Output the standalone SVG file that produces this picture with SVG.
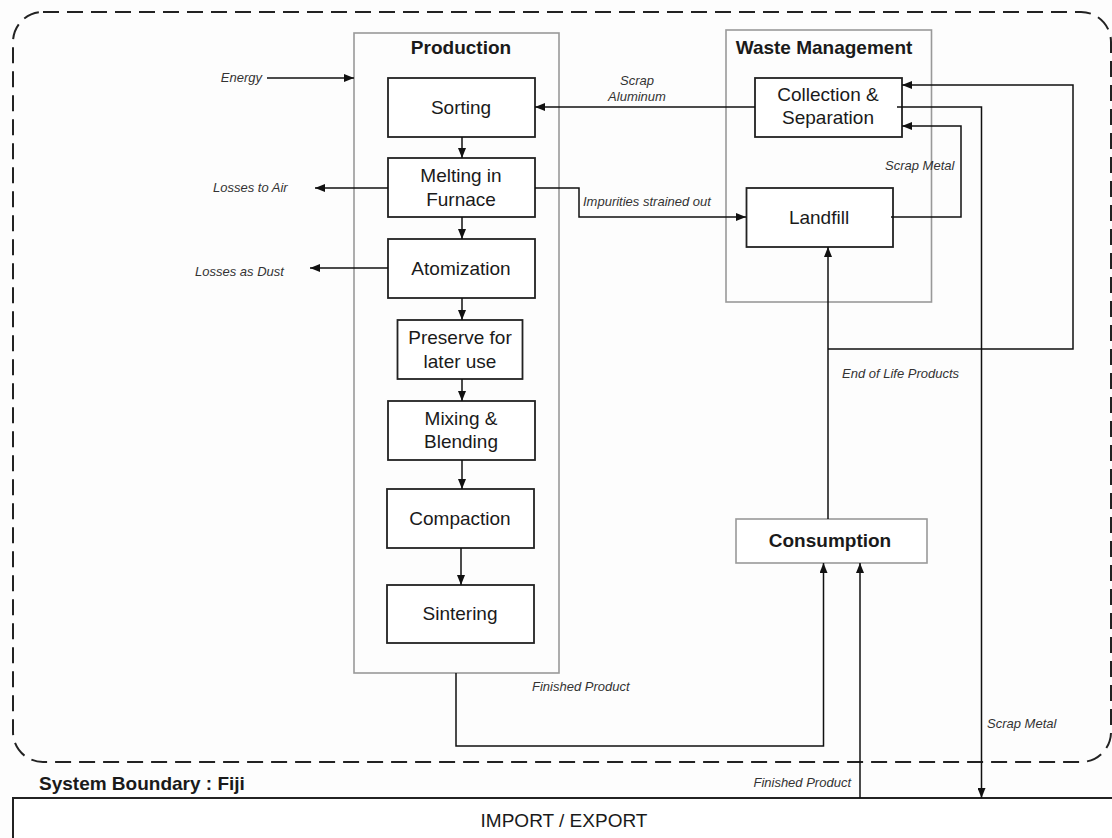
<svg xmlns="http://www.w3.org/2000/svg" width="1112" height="838" viewBox="0 0 1112 838">
<defs>
<marker id="ah" viewBox="0 0 10 8" refX="10" refY="4" markerWidth="10" markerHeight="8" markerUnits="userSpaceOnUse" orient="auto">
<path d="M0,0 L10,4 L0,8 Z" fill="#111"/>
</marker>
<style>
.bg{fill:#fdfdfd}
.grp{fill:none;stroke:#999;stroke-width:1.6}
.box{fill:#fff;stroke:#222;stroke-width:1.8}
.cons{fill:#fff;stroke:#999;stroke-width:1.6}
.t{font-family:"Liberation Sans",Arial,sans-serif;font-size:19px;fill:#1a1a1a;text-anchor:middle}
.b{font-weight:bold}
.lbl{font-family:"Liberation Sans",Arial,sans-serif;font-size:13px;font-style:italic;fill:#333}
.c{fill:none;stroke:#111;stroke-width:1.5}
.ca{fill:none;stroke:#111;stroke-width:1.5;marker-end:url(#ah)}
</style>
</defs>
<rect class="bg" x="0" y="0" width="1112" height="838"/>
<rect id="boundary" x="13" y="12" width="1098" height="750" rx="30" ry="30" fill="none" stroke="#222" stroke-width="2" stroke-dasharray="16 8"/>
<text class="t b" x="39" y="790" text-anchor="start" style="text-anchor:start">System Boundary  : Fiji</text>

<g id="import-export">
<rect x="13" y="798" width="1110" height="60" fill="#fff" stroke="#222" stroke-width="2"/>
<text class="t" x="564" y="827">IMPORT / EXPORT</text>
</g>

<g id="production">
<rect class="grp" x="354" y="33" width="205" height="640"/>
<text class="t b" x="461" y="54">Production</text>
</g>
<g id="sorting"><rect class="box" x="388" y="78" width="147" height="59"/><text class="t" x="461" y="114">Sorting</text></g>
<g id="melting"><rect class="box" x="388" y="158" width="147" height="59"/><text class="t" x="461" y="182">Melting in</text><text class="t" x="461" y="206">Furnace</text></g>
<g id="atomization"><rect class="box" x="388" y="239" width="147" height="59"/><text class="t" x="461" y="275">Atomization</text></g>
<g id="preserve"><rect class="box" x="397.5" y="320" width="125" height="59"/><text class="t" x="460" y="344">Preserve for</text><text class="t" x="460" y="368">later use</text></g>
<g id="mixing"><rect class="box" x="388" y="401" width="147" height="59"/><text class="t" x="461" y="425">Mixing &amp;</text><text class="t" x="461" y="448">Blending</text></g>
<g id="compaction"><rect class="box" x="387" y="489" width="147" height="59"/><text class="t" x="460" y="525">Compaction</text></g>
<g id="sintering"><rect class="box" x="387" y="585" width="147" height="58"/><text class="t" x="460" y="620">Sintering</text></g>

<g id="waste-management">
<rect class="grp" x="726" y="30" width="205.5" height="272"/>
<text class="t b" x="824" y="54">Waste Management</text>
</g>
<g id="collection"><rect class="box" x="755" y="78" width="147" height="59"/><text class="t" x="828" y="101">Collection &amp;</text><text class="t" x="828" y="124">Separation</text></g>
<g id="landfill"><rect class="box" x="746.5" y="188" width="146.5" height="59"/><text class="t" x="819" y="224">Landfill</text></g>
<g id="consumption"><rect class="cons" x="736" y="519" width="191" height="44"/><text class="t b" x="830" y="547">Consumption</text></g>

<g id="connectors">
<path class="ca" d="M267,78 H354"/>
<path class="ca" d="M462,137 V158"/>
<path class="ca" d="M462,217 V239"/>
<path class="ca" d="M462,298 V320"/>
<path class="ca" d="M462,379 V401"/>
<path class="ca" d="M462,460 V489"/>
<path class="ca" d="M461,548 V585"/>
<path class="ca" d="M388,188 H315"/>
<path class="ca" d="M388,268 H310"/>
<path class="ca" d="M755,107 H535"/>
<path class="ca" d="M535,188 H579 V217 H746"/>
<path class="ca" d="M891,217 H961 V126 H902"/>
<path class="ca" d="M897,107 H981.5 V798"/>
<path class="c" d="M828,519 V349"/>
<path class="ca" d="M828,349 V247"/>
<path class="ca" d="M828,349 H1073 V85 H902"/>
<path class="ca" d="M456,673 V746 H823.5 V563"/>
<path class="ca" d="M860,798 V563"/>
</g>

<g id="labels">
<text class="lbl" x="262" y="82" text-anchor="end">Energy</text>
<text class="lbl" x="213" y="192">Losses to Air</text>
<text class="lbl" x="195" y="276">Losses as Dust</text>
<text class="lbl" x="637" y="85" text-anchor="middle">Scrap</text>
<text class="lbl" x="637" y="101" text-anchor="middle">Aluminum</text>
<text class="lbl" x="583" y="206">Impurities strained out</text>
<text class="lbl" x="885" y="170">Scrap Metal</text>
<text class="lbl" x="842" y="378">End of Life Products</text>
<text class="lbl" x="532" y="691">Finished Product</text>
<text class="lbl" x="987" y="728">Scrap Metal</text>
<text class="lbl" x="851" y="787" text-anchor="end">Finished Product</text>
</g>
</svg>
